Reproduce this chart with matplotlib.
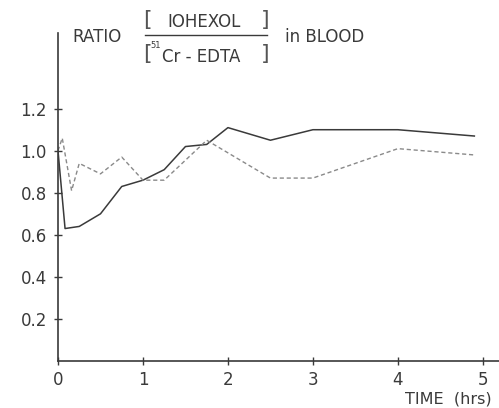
import matplotlib
matplotlib.use("Agg")
import matplotlib.pyplot as plt
from matplotlib.lines import Line2D

# data
solid_t = [0, 0.083, 0.25, 0.5, 0.75, 1.0, 1.25, 1.5, 1.75, 2.0, 2.5, 3.0, 4.0, 4.9]
solid_r = [1.00, 0.63, 0.64, 0.70, 0.83, 0.86, 0.91, 1.02, 1.03, 1.11, 1.05, 1.10, 1.10, 1.07]

dash_t = [0, 0.05, 0.16, 0.25, 0.5, 0.75, 1.0, 1.25, 1.75, 2.5, 3.0, 4.0, 4.9]
dash_r = [1.00, 1.06, 0.81, 0.94, 0.89, 0.97, 0.86, 0.86, 1.05, 0.87, 0.87, 1.01, 0.98]

y_ticks = [0.2, 0.4, 0.6, 0.8, 1.0, 1.2]
x_ticks = [0, 1, 2, 3, 4, 5]

INK = "#3a3a3a"
W, H = 499, 408
plt.rcParams["font.family"] = ["DejaVu Sans"]


def px(x, y):
    # pixel position (from top-left) -> figure fraction
    return x / W, 1 - y / H


fig = plt.figure(figsize=(W / 100, H / 100), dpi=100)
ax = fig.add_axes([58 / W, 47 / H, 441 / W, 328 / H])

ax.plot(solid_t, solid_r, color=INK, lw=1.1)
ax.plot(dash_t, dash_r, color="#8a8a8a", lw=1.0, linestyle=(0, (3, 2)))

ax.set_xlim(0, 5.19)
ax.set_ylim(0, 1.56)
ax.spines["top"].set_visible(False)
ax.spines["right"].set_visible(False)
for s in ("left", "bottom"):
    ax.spines[s].set_color(INK)
    ax.spines[s].set_linewidth(1.2)

ax.set_yticks(y_ticks)
ax.set_yticklabels([f"{v:.1f}" for v in y_ticks])
ax.set_xticks(x_ticks)
ax.set_xticklabels([str(v) for v in x_ticks])
ax.tick_params(direction="inout", length=6, width=1.0, color=INK,
               labelcolor=INK, labelsize=12)
ax.tick_params(axis="x", pad=4)
ax.tick_params(axis="y", pad=5)

fig.text(*px(492, 399), "TIME  (hrs)", ha="right", va="center",
         fontsize=11.5, color=INK)

# title with the fraction
fig.text(*px(72, 37), "RATIO", ha="left", va="center", fontsize=12, color=INK)
fig.text(*px(204, 22), "IOHEXOL", ha="center", va="center", fontsize=12, color=INK)
fig.text(*px(150, 45), "51", ha="left", va="center", fontsize=6, color=INK)
fig.text(*px(162, 57), "Cr - EDTA", ha="left", va="center", fontsize=12, color=INK)
for yb in (20, 54):
    fig.text(*px(143, yb), "[", ha="left", va="center", fontsize=16, color="#555555")
    fig.text(*px(269, yb), "]", ha="right", va="center", fontsize=16, color="#555555")
fig.add_artist(Line2D([145 / W, 267 / W], [1 - 35 / H, 1 - 35 / H],
                      transform=fig.transFigure, color=INK, lw=1.0))
fig.text(*px(285, 37), "in BLOOD", ha="left", va="center", fontsize=12, color=INK)

fig.savefig("out.png", dpi=100)
